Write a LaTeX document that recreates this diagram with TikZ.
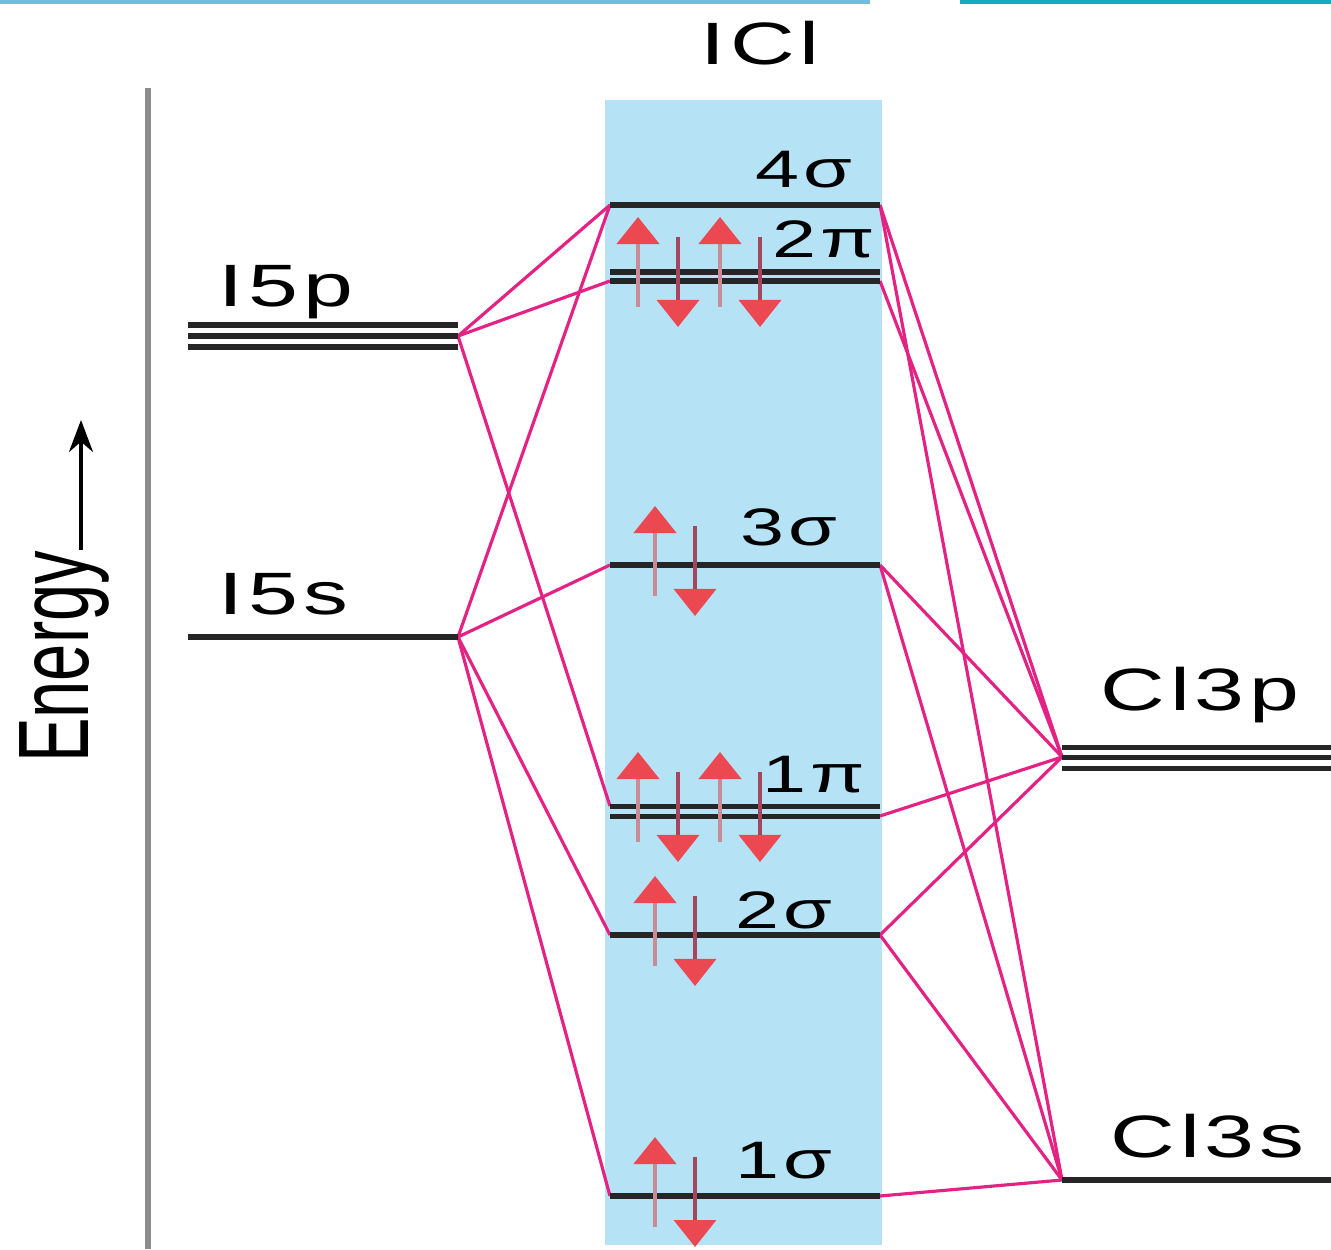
\documentclass[tikz,border=0pt]{standalone}
\usepackage{fontspec}
\usepackage{graphicx}
\setmainfont{Liberation Sans}
\newfontfamily\lblfont[FakeStretch=1.5,LetterSpace=8]{Liberation Sans}
\usetikzlibrary{arrows.meta}

\definecolor{boxblue}{RGB}{182,226,246}
\definecolor{mixpink}{RGB}{228,34,132}
\definecolor{axisgray}{RGB}{140,140,140}
\definecolor{spinred}{RGB}{236,72,82}
\definecolor{upshaft}{RGB}{200,140,150}
\definecolor{downshaft}{RGB}{165,70,95}
\definecolor{stripblue}{RGB}{110,190,222}
\definecolor{stripteal}{RGB}{22,168,196}

\begin{document}
\begin{tikzpicture}[x=0.01cm, y=-0.01cm,
    level/.style={line width=0.055cm, draw=black!85},
    sublevel/.style={line width=0.05cm, draw=black!85},
    mix/.style={draw=mixpink, line width=0.9pt},
    atomlbl/.style={font=\lblfont\fontsize{17}{20}\selectfont, inner sep=0pt, anchor=base west},
    molbl/.style={font=\lblfont\fontsize{15}{18}\selectfont, inner sep=0pt, anchor=base west},
    spinup/.style={draw=upshaft, line width=0.045cm, -{Triangle[width=0.42cm, length=0.27cm, color=spinred]}},
    spindown/.style={draw=downshaft, line width=0.035cm, -{Triangle[width=0.42cm, length=0.27cm, color=spinred]}}
]
    \useasboundingbox (0,0) rectangle (1331,1249);

    % window strip at the top
    \fill[stripblue] (0,0) rectangle (870,4);
    \fill[stripteal] (960,0) rectangle (1331,4);

    % energy axis
    \draw[axisgray, line width=0.06cm] (148,88) -- (148,1249);
    \node[inner sep=0pt] (energy) at (64,657)
        {\scalebox{1.5}[1]{\rotatebox{90}{\fontsize{19}{22}\selectfont Energy}}};
    \coordinate (etip) at (81,420);
    \draw[-{Stealth[width=0.24cm, length=0.32cm]}, line width=0.035cm] (energy.north -| etip) -- (etip);

    % molecule column
    \fill[boxblue] (605,100) rectangle (882,1245);
    \node[atomlbl] (title) at (700,65) {ICl};

    % level ends
    \coordinate (ip) at (458,336);
    \coordinate (is) at (458,637);
    \coordinate (s4w) at (610,205);  \coordinate (s4e) at (880,205);
    \coordinate (p2w) at (610,281);  \coordinate (p2e) at (880,281);
    \coordinate (s3w) at (610,565);  \coordinate (s3e) at (880,565);
    \coordinate (p1w) at (610,806);  \coordinate (p1e) at (880,816);
    \coordinate (s2w) at (610,935);  \coordinate (s2e) at (880,935);
    \coordinate (s1w) at (610,1196); \coordinate (s1e) at (880,1196);
    \coordinate (clp) at (1062,757);
    \coordinate (cls) at (1062,1180);

    % correlation lines
    \foreach \a/\b in {ip/s4w, ip/p2w, ip/p1w, is/s4w, is/s3w, is/s2w, is/s1w,
                       s4e/clp, s4e/cls, p2e/clp, s3e/clp, s3e/cls, p1e/clp,
                       s2e/clp, s2e/cls, s1e/cls}
        \draw[mix] (\a) -- (\b);

    % iodine levels
    \foreach \y in {325,336,347}
        \draw[sublevel] (188,\y) -- (ip |- 0,\y);
    \draw[level] (188,637) -- (is);
    \node[atomlbl] (i5p) at (218,307) {I5p};
    \node[atomlbl] (i5s) at (218,614) {I5s};

    % chlorine levels
    \foreach \y in {747,757,768}
        \draw[sublevel] (clp |- 0,\y) -- (1331,\y);
    \draw[level] (cls) -- (1331,1180);
    \node[atomlbl] (cl3p) at (1100,710) {Cl3p};
    \node[atomlbl] (cl3s) at (1110,1157) {Cl3s};

    % molecular orbitals
    \draw[level] (s4w) -- (s4e);
    \draw[sublevel] (610,272) -- (880,272);
    \draw[sublevel] (p2w) -- (p2e);
    \draw[level] (s3w) -- (s3e);
    \draw[sublevel] (p1w) -- (880,806);
    \draw[sublevel] (610,816) -- (p1e);
    \draw[level] (s2w) -- (s2e);
    \draw[level] (s1w) -- (s1e);

    \node[molbl] (l4s) at (755,188) {4σ};
    \node[molbl] (l2p) at (772,258) {2π};
    \node[molbl] (l3s) at (740,545) {3σ};
    \node[molbl] (l1p) at (762,792) {1π};
    \node[molbl] (l2s) at (735,928) {2σ};
    \node[molbl] (l1s) at (735,1178) {1σ};

    % electrons
    \foreach \L in {565,935,1196} {
        \draw[spinup] (655,\L+31) -- (655,\L-59);
        \draw[spindown] (695,\L-39) -- (695,\L+51);
    }
    \foreach \L in {276,811}
        \foreach \x in {638,720} {
            \draw[spinup] (\x,\L+31) -- (\x,\L-59);
            \draw[spindown] (\x+40,\L-39) -- (\x+40,\L+51);
        }
\end{tikzpicture}
\end{document}
